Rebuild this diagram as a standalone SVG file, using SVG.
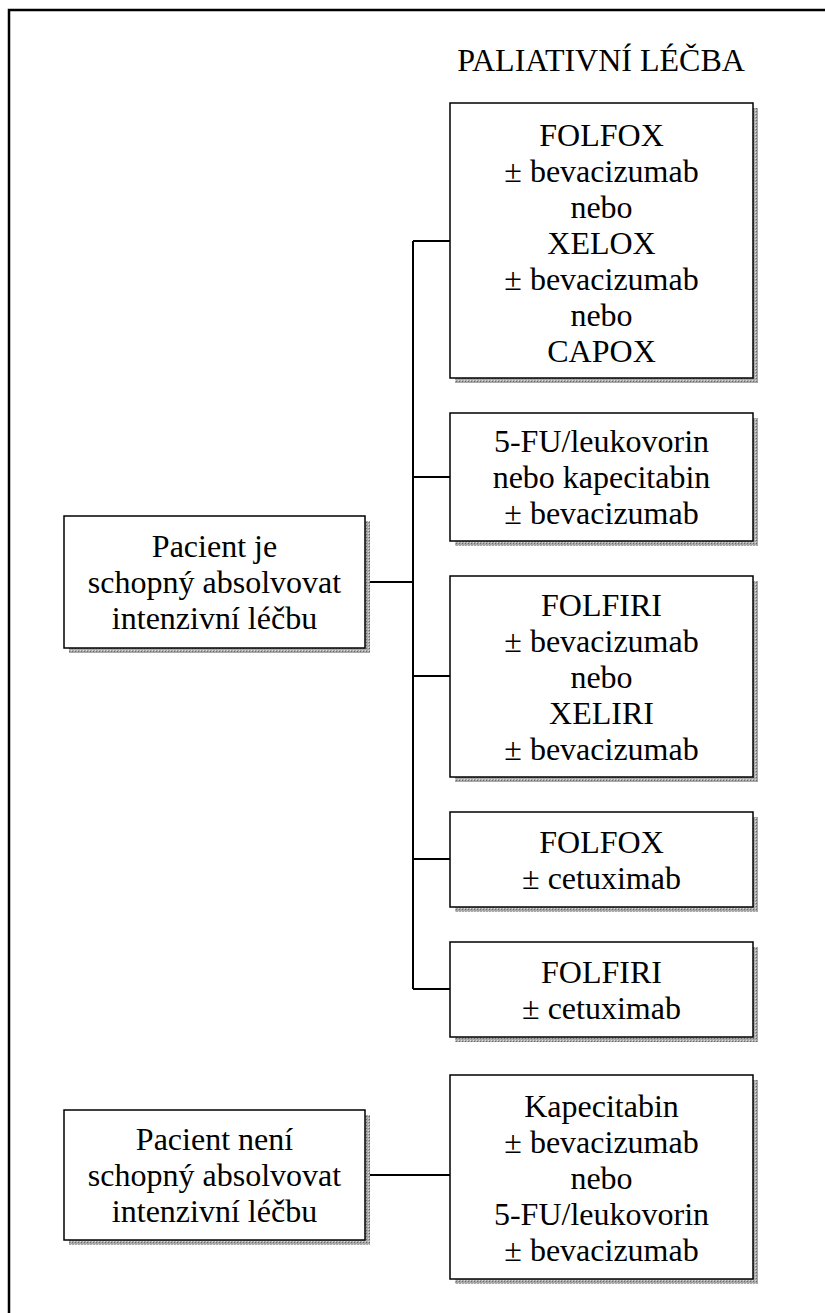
<svg xmlns="http://www.w3.org/2000/svg" width="825" height="1313" viewBox="0 0 825 1313">
<defs>
<pattern id="hatch" width="3" height="3" patternUnits="userSpaceOnUse">
<rect width="3" height="3" fill="#a8a8a8"/>
<rect width="1" height="1" fill="#6a6a6a"/>
<rect x="2" y="2" width="1" height="1" fill="#dcdcdc"/>
</pattern>
</defs>
<style>
.box{fill:#fff;stroke:#000;stroke-width:1.5}
.sh{fill:url(#hatch)}
.t{font-family:"Liberation Serif","Times New Roman",serif;font-size:32px;fill:#000;text-anchor:middle}
.c{stroke:#000;fill:none;stroke-width:2}
</style>
<rect width="825" height="1313" fill="#fff"/>
<path d="M9,1313 V10 H825" fill="none" stroke="#000" stroke-width="2.5"/>
<text class="t" x="601" y="71">PALIATIVNÍ LÉČBA</text>

<g id="connectors">
<path class="c" d="M413,241 V989"/>
<path class="c" d="M365,582 H413"/>
<path class="c" d="M413,241 H450 M413,477 H450 M413,676 H450 M413,859 H450 M413,989 H450"/>
<path class="c" d="M365,1175 H450" stroke-width="1.5"/>
</g>

<g id="b1">
<rect class="sh" x="455" y="108" width="303" height="275"/>
<rect class="box" x="450" y="103" width="303" height="275"/>
<text class="t" x="601.5" y="146">FOLFOX</text>
<text class="t" x="601.5" y="182">± bevacizumab</text>
<text class="t" x="601.5" y="218">nebo</text>
<text class="t" x="601.5" y="254">XELOX</text>
<text class="t" x="601.5" y="290">± bevacizumab</text>
<text class="t" x="601.5" y="326">nebo</text>
<text class="t" x="601.5" y="362">CAPOX</text>
</g>
<g id="b2">
<rect class="sh" x="455" y="418" width="303" height="128"/>
<rect class="box" x="450" y="413" width="303" height="128"/>
<text class="t" x="601.5" y="452">5-FU/leukovorin</text>
<text class="t" x="601.5" y="488">nebo kapecitabin</text>
<text class="t" x="601.5" y="524">± bevacizumab</text>
</g>
<g id="b3">
<rect class="sh" x="455" y="581" width="303" height="201"/>
<rect class="box" x="450" y="576" width="303" height="201"/>
<text class="t" x="601.5" y="616">FOLFIRI</text>
<text class="t" x="601.5" y="652">± bevacizumab</text>
<text class="t" x="601.5" y="688">nebo</text>
<text class="t" x="601.5" y="724">XELIRI</text>
<text class="t" x="601.5" y="760">± bevacizumab</text>
</g>
<g id="b4">
<rect class="sh" x="455" y="817" width="303" height="95"/>
<rect class="box" x="450" y="812" width="303" height="95"/>
<text class="t" x="601.5" y="853">FOLFOX</text>
<text class="t" x="601.5" y="889">± cetuximab</text>
</g>
<g id="b5">
<rect class="sh" x="455" y="947" width="303" height="95"/>
<rect class="box" x="450" y="942" width="303" height="95"/>
<text class="t" x="601.5" y="983">FOLFIRI</text>
<text class="t" x="601.5" y="1019">± cetuximab</text>
</g>
<g id="b6">
<rect class="sh" x="455" y="1080" width="303" height="204"/>
<rect class="box" x="450" y="1075" width="303" height="204"/>
<text class="t" x="601.5" y="1117">Kapecitabin</text>
<text class="t" x="601.5" y="1153">± bevacizumab</text>
<text class="t" x="601.5" y="1189">nebo</text>
<text class="t" x="601.5" y="1225">5-FU/leukovorin</text>
<text class="t" x="601.5" y="1261">± bevacizumab</text>
</g>
<g id="l1">
<rect class="sh" x="69" y="521" width="301" height="132"/>
<rect class="box" x="64" y="516" width="301" height="132"/>
<text class="t" x="214.5" y="557">Pacient je</text>
<text class="t" x="214.5" y="593">schopný absolvovat</text>
<text class="t" x="214.5" y="629">intenzivní léčbu</text>
</g>
<g id="l2">
<rect class="sh" x="69" y="1115" width="301" height="130"/>
<rect class="box" x="64" y="1110" width="301" height="130"/>
<text class="t" x="214.5" y="1150">Pacient není</text>
<text class="t" x="214.5" y="1186">schopný absolvovat</text>
<text class="t" x="214.5" y="1222">intenzivní léčbu</text>
</g>
</svg>
